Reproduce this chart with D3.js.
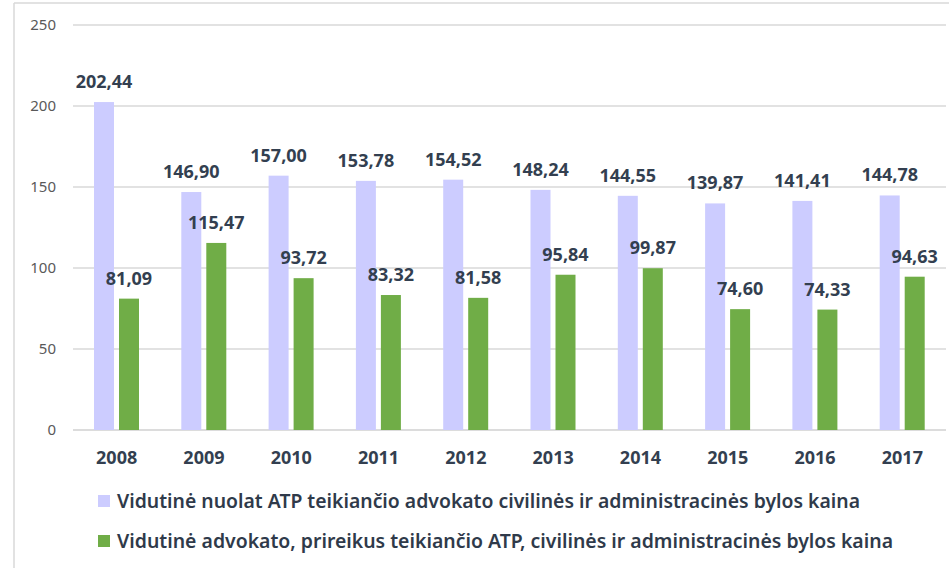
<!DOCTYPE html>
<html>
<head>
<meta charset="utf-8">
<title>ATP bylos kaina</title>
<script src="https://d3js.org/d3.v7.min.js"></script>
<style>
  body { margin: 0; background: #fff; }
  text { font-family: 'Noto Sans', 'Open Sans', sans-serif; }
</style>
</head>
<body>
<script>
'use strict'
const years = ['2008', '2009', '2010', '2011', '2012', '2013', '2014', '2015', '2016', '2017']
const nuolat = [202.44, 146.90, 157.00, 153.78, 154.52, 148.24, 144.55, 139.87, 141.41, 144.78]
const prireikus = [81.09, 115.47, 93.72, 83.32, 81.58, 95.84, 99.87, 74.60, 74.33, 94.63]
const yTicks = [0, 50, 100, 150, 200, 250]
const seriesNames = [
  'Vidutinė nuolat ATP teikiančio advokato civilinės ir administracinės bylos kaina',
  'Vidutinė advokato, prireikus teikiančio ATP, civilinės ir administracinės bylos kaina'
]
const colors = ['#ccccff', '#70ad47']

const width = 949, height = 568
const svg = d3.select('body').append('svg')
  .attr('width', width)
  .attr('height', height)

// chart frame (left and top edges visible)
svg.append('line').attr('x1', 14).attr('x2', 14).attr('y1', 3).attr('y2', height)
  .attr('stroke', '#d9d9d9').attr('stroke-width', 1.5)
svg.append('line').attr('x1', 14).attr('x2', width).attr('y1', 3).attr('y2', 3)
  .attr('stroke', '#d9d9d9').attr('stroke-width', 1.5)

const x = d3.scaleBand().domain(years).range([73, 946])
const y = d3.scaleLinear().domain([0, 250]).range([430, 25])
const x1 = d3.scaleBand().domain([0, 1]).range([21, 66]).paddingInner(0.2)

// gridlines
svg.append('g').selectAll('line').data(yTicks).join('line')
  .attr('x1', 73).attr('x2', 946)
  .attr('y1', d => y(d)).attr('y2', d => y(d))
  .attr('stroke', d => d === 0 ? '#d0d0d0' : '#d9d9d9')
  .attr('stroke-width', 1.5)

// y tick labels
svg.append('g').selectAll('text').data(yTicks).join('text')
  .attr('x', 56).attr('y', d => y(d) + 5)
  .attr('text-anchor', 'end')
  .attr('fill', '#595959')
  .attr('font-size', 15)
  .text(d => d)

const fmt = v => v.toFixed(2).replace('.', ',')

const series = [nuolat, prireikus]
series.forEach((vals, s) => {
  const g = svg.append('g')
  g.selectAll('rect').data(vals).join('rect')
    .attr('x', (d, i) => x(years[i]) + x1(s))
    .attr('width', x1.bandwidth())
    .attr('y', d => y(d))
    .attr('height', d => y(0) - y(d))
    .attr('fill', colors[s])
  g.selectAll('text').data(vals).join('text')
    .attr('x', (d, i) => x(years[i]) + x1(s) + x1.bandwidth() / 2)
    .attr('y', d => y(d) - 14)
    .attr('text-anchor', 'middle')
    .attr('font-size', 18)
    .attr('font-weight', 'bold')
    .attr('fill', '#333f50')
    .text(fmt)
})

// x labels
svg.append('g').selectAll('text').data(years).join('text')
  .attr('x', d => x(d) + x.bandwidth() / 2)
  .attr('y', 464)
  .attr('text-anchor', 'middle')
  .attr('font-size', 18)
  .attr('font-weight', 'bold')
  .attr('fill', '#333f50')
  .text(d => d)

// legend
const legendW = [743, 776]
const legend = svg.append('g').selectAll('g').data(seriesNames).join('g')
  .attr('transform', (d, i) => `translate(98, ${495 + i * 40})`)
legend.append('rect').attr('width', 12).attr('height', 12)
  .attr('fill', (d, i) => colors[i])
legend.append('text')
  .attr('x', 19).attr('y', 13)
  .attr('font-size', 19)
  .attr('font-family', "'Open Sans', 'Noto Sans', sans-serif")
  .attr('font-weight', 600)
  .attr('fill', '#2f3a4a')
  .attr('textLength', (d, i) => legendW[i])
  .attr('lengthAdjust', 'spacingAndGlyphs')
  .text(d => d)
</script>
</body>
</html>
